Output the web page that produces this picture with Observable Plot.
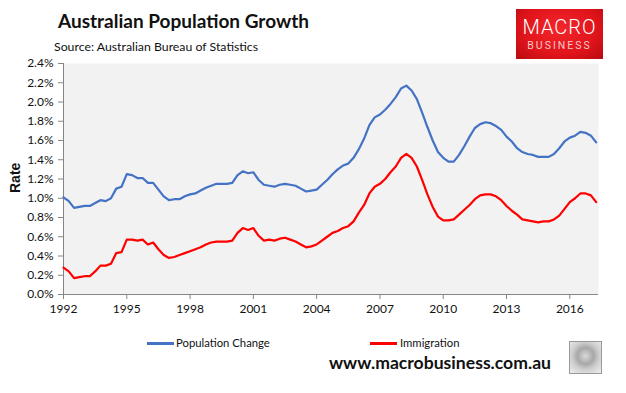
<!DOCTYPE html>
<html>
<head>
<meta charset="utf-8">
<script src="https://cdn.jsdelivr.net/npm/d3@7"></script>
<script src="https://cdn.jsdelivr.net/npm/@observablehq/plot@0.6"></script>
<style>
  html, body { margin: 0; padding: 0; background: #fff; }
  #wrap { position: relative; width: 626px; height: 393px; overflow: hidden; font-family: Lato, "Noto Sans", sans-serif; }
  #chart { position: absolute; left: 0; top: 0; }
  .abs { position: absolute; white-space: nowrap; }
  #title { left: 58px; top: 9px; font-size: 19px; font-weight: bold; color: #111; }
  #subtitle { left: 54px; top: 39px; font-size: 12.3px; color: #111; }
  #logo { left: 516px; top: 9px; width: 87px; height: 50px;
    background: radial-gradient(ellipse at 50% 40%, #f3262b 0%, #e0141b 60%, #b80b10 100%); }
  #logo .m { position: absolute; left: 0; width: 87px; top: 6px; text-align: center; color: #fff; font-family: Roboto, sans-serif; font-weight: 300; font-size: 20px; letter-spacing: 1px; }
  #logo .b { position: absolute; left: 0; width: 87px; top: 30px; text-align: center; color: #f7c9c9; font-family: Roboto, sans-serif; font-size: 10.5px; letter-spacing: 2px; }
  #ylab { left: 0px; top: 170px; font-family: "Liberation Sans", Arial, sans-serif; font-weight: bold; font-size: 14px; transform: rotate(-90deg); transform-origin: center; width: 30px; text-align: center; color: #111; }
  .leg { top: 336px; font-size: 11.3px; color: #111; }
  .sw { position: absolute; height: 2.5px; width: 27px; }
  #url { left: 329px; top: 352px; font-size: 17.6px; font-weight: bold; color: #111; }
  #wolf { left: 569px; top: 341px; width: 31px; height: 31px; border: 1px solid #999;
    background: radial-gradient(circle at 50% 45%, #d9d9d9 0%, #a8a8a8 35%, #cfcfcf 60%, #eee 100%); }
</style>
</head>
<body>
<div id="wrap">
  <div id="chart"></div>
  <div id="title" class="abs">Australian Population Growth</div>
  <div id="subtitle" class="abs">Source: Australian Bureau of Statistics</div>
  <div id="logo" class="abs"><div class="m">MACRO</div><div class="b">BUSINESS</div></div>
  <div id="ylab" class="abs">Rate</div>
  <div class="sw abs" style="left:147px; top:342px; background:#4472C4"></div>
  <div class="leg abs" style="left:176px">Population Change</div>
  <div class="sw abs" style="left:370px; top:342px; background:#FF0000"></div>
  <div class="leg abs" style="left:400px">Immigration</div>
  <div id="url" class="abs">www.macrobusiness.com.au</div>
  <div id="wolf" class="abs"></div>
</div>
<script>
// Quarterly series, 1992 Q1 onward (percent per year)
const startYear = 1992;
const seriesNames = ["Population Change", "Immigration"];
const seriesColors = ["#4472C4", "#FF0000"];
const populationChange = [
  1.01, 0.97, 0.90, 0.91, 0.92, 0.92, 0.95, 0.98, 0.97, 1.00,
  1.10, 1.12, 1.25, 1.24, 1.21, 1.21, 1.16, 1.16, 1.09, 1.02,
  0.98, 0.99, 0.99, 1.02, 1.04, 1.05, 1.08, 1.11, 1.13, 1.15,
  1.15, 1.15, 1.16, 1.24, 1.28, 1.26, 1.27, 1.19, 1.14, 1.13,
  1.12, 1.14, 1.15, 1.14, 1.13, 1.10, 1.07, 1.08, 1.09, 1.14,
  1.19, 1.25, 1.30, 1.34, 1.36, 1.42, 1.51, 1.62, 1.76, 1.84,
  1.87, 1.92, 1.98, 2.05, 2.14, 2.17, 2.12, 2.03, 1.89, 1.74,
  1.60, 1.48, 1.42, 1.38, 1.38, 1.45, 1.54, 1.64, 1.73, 1.77,
  1.79, 1.78, 1.75, 1.71, 1.64, 1.59, 1.52, 1.48, 1.46, 1.45,
  1.43, 1.43, 1.43, 1.46, 1.52, 1.59, 1.63, 1.65, 1.69, 1.68,
  1.65, 1.58
];
const immigration = [
  0.28, 0.24, 0.17, 0.18, 0.19, 0.19, 0.24, 0.30, 0.30, 0.32,
  0.43, 0.44, 0.57, 0.57, 0.56, 0.57, 0.52, 0.54, 0.47, 0.41,
  0.38, 0.39, 0.41, 0.43, 0.45, 0.47, 0.49, 0.52, 0.54, 0.55,
  0.55, 0.55, 0.56, 0.64, 0.69, 0.67, 0.69, 0.61, 0.56, 0.57,
  0.56, 0.58, 0.59, 0.57, 0.55, 0.52, 0.49, 0.50, 0.52, 0.56,
  0.60, 0.64, 0.66, 0.69, 0.71, 0.76, 0.85, 0.93, 1.05, 1.12,
  1.15, 1.20, 1.27, 1.33, 1.42, 1.46, 1.42, 1.33, 1.19, 1.04,
  0.91, 0.81, 0.77, 0.77, 0.78, 0.83, 0.88, 0.93, 0.99, 1.03,
  1.04, 1.04, 1.02, 0.98, 0.92, 0.87, 0.83, 0.78, 0.77, 0.76,
  0.75, 0.76, 0.76, 0.78, 0.82, 0.89, 0.96, 1.00, 1.05, 1.05,
  1.03, 0.96
];
const xTicks = [1992, 1995, 1998, 2001, 2004, 2007, 2010, 2013, 2016];
const yTicks = [0, 0.2, 0.4, 0.6, 0.8, 1.0, 1.2, 1.4, 1.6, 1.8, 2.0, 2.2, 2.4];

const rows = [];
[populationChange, immigration].forEach((vals, s) => {
  vals.forEach((v, i) => rows.push({ series: seriesNames[s], year: startYear + i / 4, value: v }));
});

const axisGray = "#868686";
const chart = Plot.plot({
  width: 626,
  height: 330,
  marginLeft: 63,
  marginRight: 28,
  marginTop: 63,
  marginBottom: 36,
  style: { fontFamily: "Lato, 'Noto Sans', sans-serif", fontSize: "12px", background: "transparent", color: "#111" },
  x: { domain: [1992, 2017.36], label: null },
  y: { domain: [0, 2.4], label: null },
  color: { domain: seriesNames, range: seriesColors },
  marks: [
    Plot.frame({ fill: "#f2f2f2", stroke: null }),
    Plot.axisY({ ticks: yTicks, tickFormat: d => d.toFixed(1) + "%", tickSize: 5, tickPadding: 5, stroke: axisGray, fill: "#111", label: null }),
    Plot.axisX({ ticks: xTicks, tickFormat: d => String(d), tickSize: 5, tickPadding: 5, stroke: axisGray, fill: "#111", label: null }),
    Plot.ruleX([1992], { stroke: axisGray }),
    Plot.ruleY([0], { stroke: axisGray }),
    Plot.line(rows, { x: "year", y: "value", z: "series", stroke: "series", strokeWidth: 2.2, curve: "linear" })
  ]
});
document.getElementById("chart").appendChild(chart);
</script>
</body>
</html>
